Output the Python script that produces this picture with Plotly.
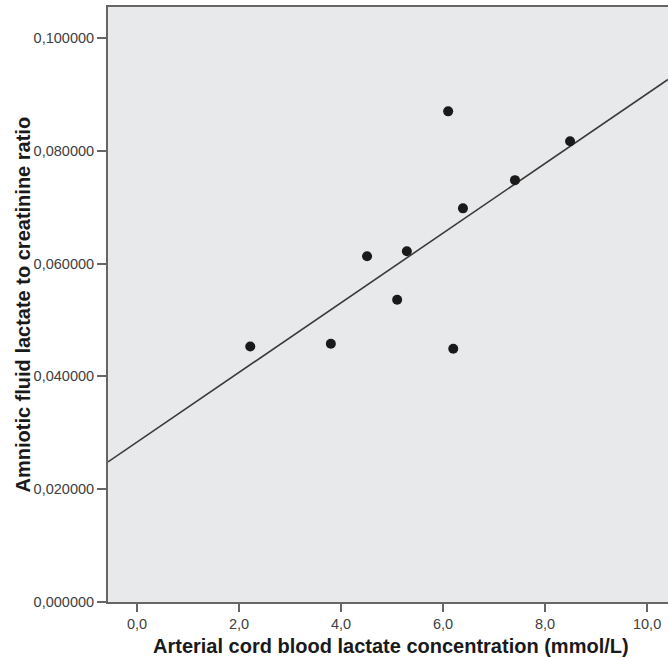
import numpy as np
import plotly.graph_objects as go

# Data
cord_lactate = [2.22, 3.80, 4.51, 5.10, 5.29, 6.10, 6.20, 6.39, 7.41, 8.49]
af_ratio = [0.0453, 0.0458, 0.0613, 0.0536, 0.0622, 0.0870, 0.0449, 0.0698, 0.0748, 0.0817]

x_ticks = [0, 2, 4, 6, 8, 10]
y_ticks = [0.0, 0.02, 0.04, 0.06, 0.08, 0.10]

x_range = [-0.569, 10.41]
y_range = [0.0, 0.1055]

slope, intercept = np.polyfit(cord_lactate, af_ratio, 1)
line_x = np.array(x_range)
line_y = slope * line_x + intercept

fig = go.Figure()
fig.add_trace(go.Scatter(
    x=line_x, y=line_y, mode="lines",
    line=dict(color="#3a3a3a", width=1.6), hoverinfo="skip", showlegend=False,
))
fig.add_trace(go.Scatter(
    x=cord_lactate, y=af_ratio, mode="markers",
    marker=dict(color="#1a1a1a", size=10, line=dict(width=0)),
    showlegend=False,
))

font_family = "Liberation Sans, Arial, sans-serif"
tick_font = dict(family=font_family, size=14.5, color="#404040")
title_font = dict(family=font_family, size=20, color="#1a1a1a")

fig.update_layout(
    width=668, height=658,
    margin=dict(l=108, r=0, t=7, b=56),
    paper_bgcolor="white",
    plot_bgcolor="#E8E9EB",
    separators=",.",
    font=dict(family=font_family, size=14, color="#404040"),
    xaxis=dict(
        range=x_range, tickvals=x_ticks, tickformat=".1f",
        showgrid=False, zeroline=False,
        showline=True, linecolor="#666666", linewidth=2, mirror=True,
        ticks="outside", ticklen=8, tickwidth=2, tickcolor="#666666",
        tickfont=tick_font,
    ),
    yaxis=dict(
        range=y_range, tickvals=y_ticks, tickformat=".6f",
        showgrid=False, zeroline=False,
        showline=True, linecolor="#666666", linewidth=2, mirror=False,
        ticks="outside", ticklen=9, tickwidth=2, tickcolor="#666666",
        tickfont=tick_font,
    ),
    annotations=[
        dict(text="<b>Arterial cord blood lactate concentration (mmol/L)</b>",
             xref="paper", yref="paper", x=0.505, y=0, yshift=-44,
             xanchor="center", yanchor="middle", showarrow=False,
             font=title_font),
        dict(text="<b>Amniotic fluid lactate to creatinine ratio</b>",
             xref="paper", yref="paper", x=0, xshift=-86, y=0.5,
             xanchor="center", yanchor="middle", textangle=-90, showarrow=False,
             font=title_font),
    ],
)

fig.write_html(
    "out.html",
    config={"displayModeBar": False},
    post_script="document.body.style.margin='0';document.body.style.overflow='hidden';",
)
